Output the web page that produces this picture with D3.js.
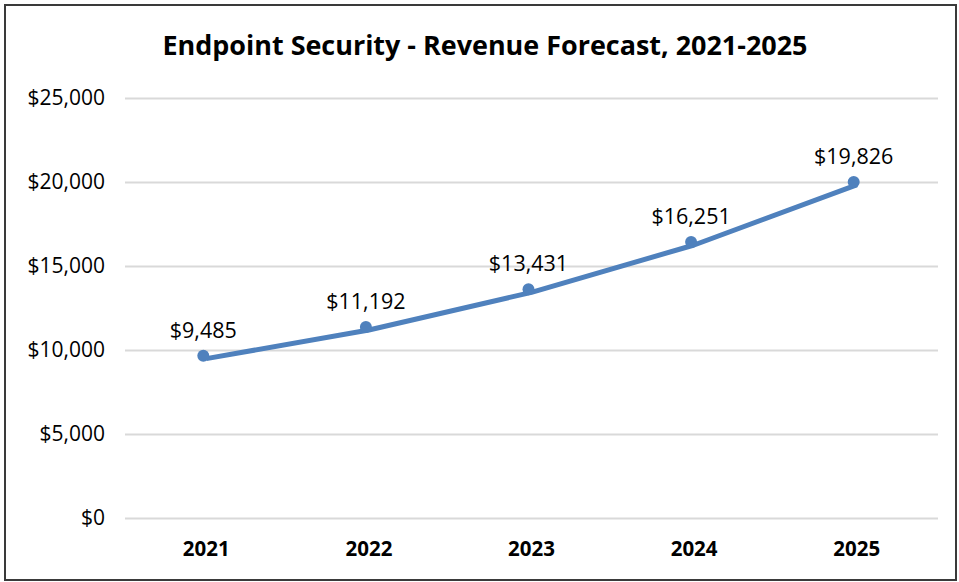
<!DOCTYPE html>
<html lang="en">
<head>
  <meta charset="utf-8" />
  <title>Endpoint Security - Revenue Forecast</title>
  <script type="text/javascript" src="https://cdn.jsdelivr.net/npm/d3@7"></script>
  <style type="text/css">
    body { margin: 0; background: white; }
    text { font-family: "Open Sans", "Noto Sans", sans-serif; fill: #000; }
  </style>
</head>
<body>
<script type="text/javascript">

var years = ["2021", "2022", "2023", "2024", "2025"];
var revenue = [9485, 11192, 13431, 16251, 19826];
var yTicks = [0, 5000, 10000, 15000, 20000, 25000];
var title = "Endpoint Security - Revenue Forecast, 2021-2025";

var w = 959;
var h = 582;
var pad = {left: 125, right: 21, top: 98, bottom: 64};

var xScale = d3.scaleBand()
               .domain(years)
               .range([pad.left, w - pad.right]);
var yScale = d3.scaleLinear()
               .domain([0, 25000])
               .range([h - pad.bottom, pad.top]);
var money = d3.format("$,");

var svg = d3.select("body")
            .append("svg")
            .attr("width", w)
            .attr("height", h);

// chart border
svg.append("rect")
   .attr("x", 5).attr("y", 5)
   .attr("width", w - 8).attr("height", h - 7)
   .attr("fill", "none")
   .attr("stroke", "#3a3a3a")
   .attr("stroke-width", 2);

svg.append("text")
   .attr("x", 485)
   .attr("y", 55)
   .attr("text-anchor", "middle")
   .attr("font-size", 26)
   .attr("font-weight", "bold")
   .attr("textLength", 645)
   .attr("lengthAdjust", "spacingAndGlyphs")
   .text(title);

// gridlines + y labels
var yAxis = d3.axisLeft(yScale)
              .tickValues(yTicks)
              .tickSize(-(w - pad.left - pad.right))
              .tickPadding(20)
              .tickFormat(money);
var gy = svg.append("g")
            .attr("transform", "translate(" + pad.left + ",0)")
            .call(yAxis);
gy.select(".domain").remove();
gy.selectAll(".tick line").attr("stroke", "#d9d9d9").attr("stroke-width", 2);
gy.selectAll(".tick text")
  .attr("font-size", 21)
  .attr("fill", "#111");

var xAxis = d3.axisBottom(xScale).tickSize(0).tickPadding(23);
var gx = svg.append("g")
            .attr("transform", "translate(0," + (h - pad.bottom) + ")")
            .call(xAxis);
gx.select(".domain").remove();
gx.selectAll(".tick text")
  .attr("font-size", 20.5)
  .attr("font-weight", "bold");

var pts = years.map(function(y, i) { return {year: y, v: revenue[i]}; });
var cx = function(d) { return xScale(d.year) + xScale.bandwidth() / 2; };

var line = d3.line()
             .x(cx)
             .y(function(d) { return yScale(d.v); });

svg.append("path")
   .datum(pts)
   .attr("d", line)
   .attr("fill", "none")
   .attr("stroke", "#4f81bd")
   .attr("stroke-width", 5)
   .attr("stroke-linejoin", "round");

// markers sit slightly up-left of the line in the original
var mk = svg.append("g").attr("transform", "translate(-3,-3)");
mk.selectAll("circle")
  .data(pts)
  .enter()
  .append("circle")
  .attr("cx", cx)
  .attr("cy", function(d) { return yScale(d.v); })
  .attr("r", 6)
  .attr("fill", "#4f81bd");

mk.selectAll("text")
  .data(pts)
  .enter()
  .append("text")
  .attr("x", cx)
  .attr("y", function(d) { return yScale(d.v) - 18; })
  .attr("text-anchor", "middle")
  .attr("font-size", 21.5)
  .text(function(d) { return money(d.v); });

</script>
</body>
</html>
